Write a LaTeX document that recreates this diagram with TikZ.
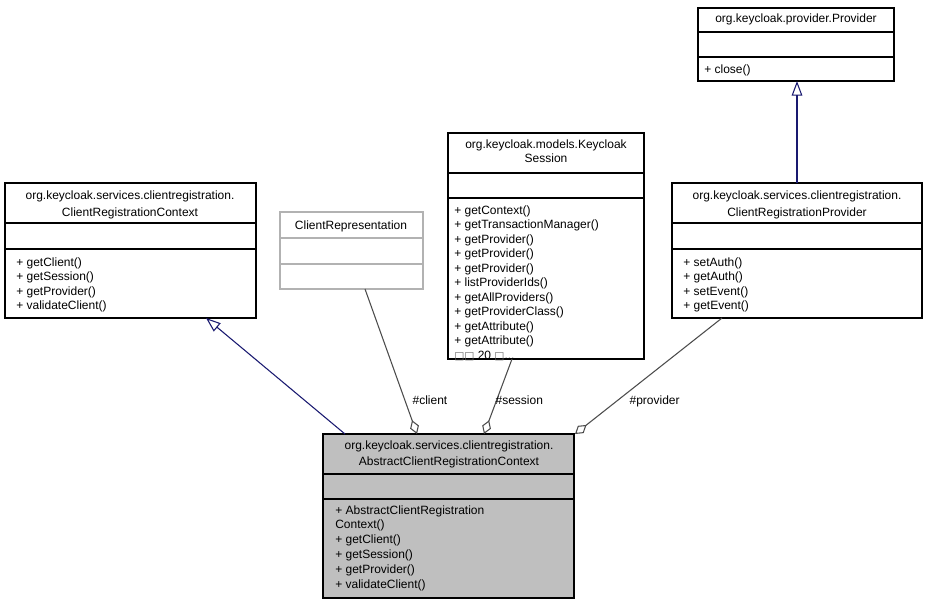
\documentclass[tikz,border=0pt]{standalone}
\usepackage{fontspec}
\setmainfont{Liberation Sans}
\newfontfamily\dejavu{DejaVu Sans}
\usetikzlibrary{arrows.meta}
\begin{document}
\begin{tikzpicture}[x=0.75pt,y=-0.75pt,font=\fontsize{9}{10.9}\selectfont,
  box/.style={draw=black,line width=0.9pt},
  gbox/.style={draw=black!30,line width=0.9pt},
  t/.style={inner sep=0pt,anchor=base},
  m/.style={inner sep=0pt,anchor=base west},
  inh/.style={draw={rgb,255:red,25;green,25;blue,112},line width=0.8pt,-{Triangle[open,length=11pt,width=8pt]}},
  agg/.style={draw=black!70,line width=0.8pt,-{Diamond[open,length=11pt,width=7pt]}},
  lbl/.style={inner sep=1pt,anchor=base west}]
\useasboundingbox (0,0) rectangle (928,604);
% Provider
\draw[box] (698,8) rectangle (894,81);
\draw[box] (698,32)--(894,32) (698,57)--(894,57);
\node[t] (pt) at (796,22) {org.keycloak.provider.Provider};
\node[m] at (704,73) {+ close()};
\coordinate (pB) at (797,81);
% ClientRegistrationProvider
\draw[box] (672,183) rectangle (922,318);
\draw[box] (672,223)--(922,223) (672,249)--(922,249);
\node[t] at (797,199) {org.keycloak.services.clientregistration.};
\node[t] at (797,216) {ClientRegistrationProvider};
\node[m] at (683,266) {+ setAuth()};
\node[m] at (683,280) {+ getAuth()};
\node[m] at (683,295) {+ setEvent()};
\node[m] at (683,309) {+ getEvent()};
\coordinate (crpT) at (797,183);
\coordinate (crpB) at (722,318);
% KeycloakSession
\draw[box] (448,133) rectangle (644,359);
\draw[box] (448,173)--(644,173) (448,198)--(644,198);
\node[t] at (546,148) {org.keycloak.models.Keycloak};
\node[t] at (546,162) {Session};
\foreach \s [count=\i from 0] in {getContext(),getTransactionManager(),getProvider(),getProvider(),getProvider(),listProviderIds(),getAllProviders(),getProviderClass(),getAttribute(),getAttribute()}
  \node[m] at (454,214+14.5*\i) {+ \s};
\node[m] at (454,359) {{\dejavu\fontsize{8}{9}\selectfont\color{black!60}□□} 20 {\dejavu\fontsize{8}{9}\selectfont\color{black!60}□}...};
\coordinate (ksB) at (512,359);
% ClientRepresentation
\draw[gbox] (280,212) rectangle (423,289);
\draw[gbox] (280,238)--(423,238) (280,264)--(423,264);
\node[t] at (351,229) {ClientRepresentation};
\coordinate (crB) at (365,289);
% ClientRegistrationContext
\draw[box] (5,183) rectangle (256,318);
\draw[box] (5,223)--(256,223) (5,249)--(256,249);
\node[t] at (130,199) {org.keycloak.services.clientregistration.};
\node[t] at (130,216) {ClientRegistrationContext};
\node[m] at (16,266) {+ getClient()};
\node[m] at (16,280) {+ getSession()};
\node[m] at (16,295) {+ getProvider()};
\node[m] at (16,309) {+ validateClient()};
\coordinate (crcB) at (206,318);
% Abstract
\draw[box,fill=black!25] (323,434) rectangle (574,598);
\draw[box] (323,474)--(574,474) (323,499)--(574,499);
\node[t] at (449,449) {org.keycloak.services.clientregistration.};
\node[t] at (449,465) {AbstractClientRegistrationContext};
\foreach \s [count=\i from 0] in {+ AbstractClientRegistration,Context(),+ getClient(),+ getSession(),+ getProvider(),+ validateClient()}
  \node[m] at (335,514+14.8*\i) {\s};
\coordinate (aT1) at (345,434);
\coordinate (aT2) at (417,434);
\coordinate (aT3) at (484,434);
\coordinate (aT4) at (575,434);
% connectors
\draw[inh] (aT1) -- (crcB);
\draw[inh] (crpT) -- (pB);
\draw[agg] (crB) -- (aT2);
\draw[agg] (ksB) -- (aT3);
\draw[agg] (crpB) -- (aT4);
\node[lbl] at (411,404) {\#client};
\node[lbl] at (494,404) {\#session};
\node[lbl] at (628,404) {\#provider};
\end{tikzpicture}
\end{document}
